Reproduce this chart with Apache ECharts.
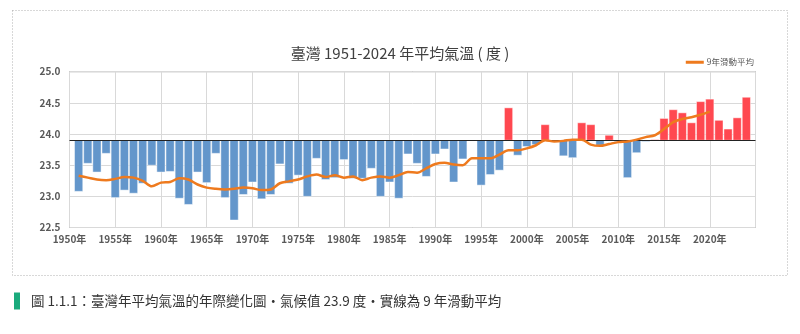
<!DOCTYPE html>
<html>
<head>
<meta charset="utf-8">
<script src="https://cdn.jsdelivr.net/npm/echarts@6/dist/echarts.min.js"></script>
<style>
html,body{margin:0;padding:0;background:#fff;}
#chart{width:800px;height:334px;}
</style>
</head>
<body>
<div id="chart"></div>
<script>
// ---- data ----
var years = [1951,1952,1953,1954,1955,1956,1957,1958,1959,1960,1961,1962,1963,1964,1965,1966,1967,1968,1969,1970,
  1971,1972,1973,1974,1975,1976,1977,1978,1979,1980,1981,1982,1983,1984,1985,1986,1987,1988,1989,1990,
  1991,1992,1993,1994,1995,1996,1997,1998,1999,2000,2001,2002,2003,2004,2005,2006,2007,2008,2009,2010,
  2011,2012,2013,2014,2015,2016,2017,2018,2019,2020,2021,2022,2023,2024];
var temps = [23.08,23.53,23.39,23.69,22.98,23.10,23.05,23.21,23.50,23.39,23.40,22.97,22.87,23.39,23.22,23.69,22.98,22.62,23.03,23.23,
  22.96,23.03,23.52,23.21,23.34,23.00,23.61,23.27,23.30,23.59,23.29,23.29,23.45,23.00,23.23,22.97,23.68,23.53,23.32,23.68,
  23.76,23.23,23.60,23.89,23.18,23.35,23.42,24.42,23.66,23.80,23.83,24.15,23.89,23.65,23.62,24.18,24.15,23.82,23.98,23.88,
  23.30,23.70,23.88,23.91,24.25,24.39,24.34,24.18,24.52,24.56,24.22,24.08,24.26,24.59];
var maYears = [1951,1952,1953,1954,1955,1956,1957,1958,1959,1960,1961,1962,1963,1964,1965,1966,1967,1968,1969,1970,
  1971,1972,1973,1974,1975,1976,1977,1978,1979,1980,1981,1982,1983,1984,1985,1986,1987,1988,1989,1990,
  1991,1992,1993,1994,1995,1996,1997,1998,1999,2000,2001,2002,2003,2004,2005,2006,2007,2008,2009,2010,
  2011,2012,2013,2014,2015,2016,2017,2018,2019,2020];
var maValues = [23.33,23.30,23.27,23.26,23.28,23.31,23.30,23.25,23.16,23.22,23.23,23.29,23.27,23.19,23.14,23.12,23.11,23.12,23.14,23.13,
  23.10,23.11,23.21,23.24,23.27,23.32,23.35,23.31,23.34,23.30,23.32,23.26,23.30,23.32,23.30,23.34,23.39,23.38,23.45,23.52,
  23.54,23.51,23.50,23.61,23.61,23.61,23.67,23.74,23.74,23.77,23.82,23.90,23.88,23.89,23.91,23.91,23.83,23.81,23.84,23.87,
  23.88,23.91,23.95,23.98,24.08,24.19,24.24,24.27,24.31,24.36];
var baseline = 23.9;
var yTicks = [22.5, 23.0, 23.5, 24.0, 24.5, 25.0];
var xTickStart = 1950, xTickEnd = 2025, xTickStep = 5;
var titleText = '臺灣 1951-2024 年平均氣溫 ( 度 )';
var legendName = '9年滑動平均';
var captionText = '圖 1.1.1：臺灣年平均氣溫的年際變化圖・氣候值 23.9 度・實線為 9 年滑動平均';

var barData = years.map(function(y, i){ return [y, temps[i]]; });
var maData = maYears.map(function(y, i){ return [y, maValues[i]]; });

var FONT = '"Noto Sans CJK TC","Noto Sans",sans-serif';
var chart = echarts.init(document.getElementById('chart'), null, {renderer:'canvas'});
chart.setOption({
  animation: false,
  backgroundColor: '#fff',
  textStyle: {fontFamily: FONT},
  title: {
    text: titleText, left: 'center', top: 46, padding: 0,
    textStyle: {fontSize: 15, fontWeight: 'normal', color: '#404040', fontFamily: FONT}
  },
  legend: {
    right: 46, top: 58, padding: 0,
    itemWidth: 18, itemHeight: 3, icon: 'rect', itemGap: 4,
    textStyle: {fontSize: 8.5, color: '#595959', fontFamily: FONT, padding: [0,0,0,-2]},
    data: [legendName]
  },
  grid: {left: 69.5, right: 44.5, top: 71.7, bottom: 106.5, show: true, borderColor: '#8c8c8c', borderWidth: 1},
  xAxis: {
    type: 'value', min: xTickStart, max: xTickEnd, interval: xTickStep,
    axisLine: {show: false}, axisTick: {show: false},
    splitLine: {show: true, lineStyle: {color: '#d9d9d9', width: 1}},
    axisLabel: {
      fontSize: 10, fontWeight: 'bold', color: '#595959', margin: 7, fontFamily: FONT,
      formatter: function(v){ return v >= xTickEnd ? '' : v + '年'; }
    }
  },
  yAxis: {
    type: 'value', min: yTicks[0], max: yTicks[yTicks.length-1], interval: 0.5,
    axisLine: {show: false}, axisTick: {show: false},
    splitLine: {show: true, lineStyle: {color: '#d9d9d9', width: 1}},
    axisLabel: {
      fontSize: 10, fontWeight: 'bold', color: '#595959', margin: 9, fontFamily: FONT,
      formatter: function(v){ return v.toFixed(1); }
    }
  },
  series: [
    {
      type: 'custom', name: 'temp', data: barData, z: 2,
      encode: {x: 0, y: 1},
      renderItem: function(params, api){
        var x = api.value(0), v = api.value(1);
        var p1 = api.coord([x, v]);
        var p0 = api.coord([x, baseline]);
        var w = api.size([1, 0])[0] * 0.9;
        return {
          type: 'rect',
          shape: {x: p1[0] - w/2, y: Math.min(p0[1], p1[1]), width: w, height: Math.abs(p1[1] - p0[1])},
          style: {fill: v >= baseline ? '#FF4850' : '#6396CB', stroke: 'rgba(255,255,255,0.45)', lineWidth: 1}
        };
      }
    },
    {
      type: 'line', name: legendName, data: maData, z: 4,
      showSymbol: false, symbol: 'none', smooth: 0.3,
      lineStyle: {color: '#EE7A1E', width: 2.5},
      itemStyle: {color: '#EE7A1E'},
      markLine: {
        silent: true, symbol: 'none', label: {show: false},
        lineStyle: {color: '#222', width: 1.2, type: 'solid'},
        data: [{yAxis: baseline}], z: 3
      }
    }
  ],
  graphic: [
    {type: 'rect', shape: {x: 12.5, y: 10.5, width: 775, height: 265},
     style: {fill: 'none', stroke: '#b0b0b0', lineWidth: 1, lineDash: [1, 2]}, silent: true},
    {type: 'rect', shape: {x: 14, y: 292.5, width: 6, height: 17}, style: {fill: '#1AAA7C'}, silent: true},
    {type: 'text', x: 31, y: 301, style: {text: captionText, fontSize: 13.5, fill: '#333', fontFamily: FONT, verticalAlign: 'middle', align: 'left'}, silent: true}
  ]
});
</script>
</body>
</html>
